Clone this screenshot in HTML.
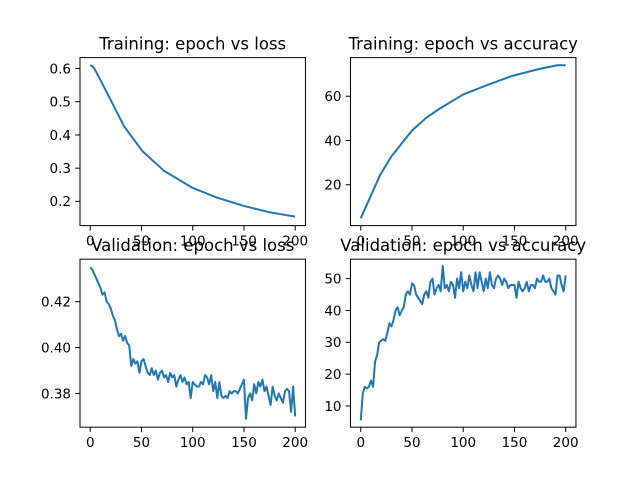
<!DOCTYPE html>
<html><head><meta charset="utf-8"><style>body{margin:0;background:#fff}svg{display:block;font-family:"DejaVu Sans","Liberation Sans",sans-serif}</style></head>
<body>
<svg id="fig" width="640" height="480" xmlns="http://www.w3.org/2000/svg"></svg>
<script>
const lossEpochs=[0,2,4,10,20,33,51,72,99,123,149,175,200];
const trainLoss=[0.61,0.607,0.60,0.565,0.505,0.426,0.351,0.292,0.242,0.212,0.187,0.167,0.154];
const accEpochs=[0,19,30,50,64,77,100,126,148,174,192,200];
const trainAcc=[4.9,24.5,32.9,44.5,50.3,54.4,60.8,65.5,69.2,72.3,74,74];
const valEpochStep=2;
const valLoss=[0.435,0.434,0.432,0.430,0.428,0.426,0.423,0.424,0.420,0.419,0.417,0.414,0.412,0.408,0.405,0.406,0.403,0.405,0.402,0.401,0.392,0.395,0.393,0.394,0.389,0.394,0.395,0.392,0.389,0.388,0.391,0.388,0.390,0.386,0.389,0.390,0.387,0.388,0.385,0.389,0.387,0.388,0.383,0.386,0.388,0.385,0.387,0.384,0.385,0.378,0.385,0.384,0.383,0.383,0.385,0.384,0.388,0.387,0.384,0.388,0.381,0.385,0.378,0.385,0.379,0.378,0.379,0.378,0.381,0.380,0.381,0.381,0.380,0.382,0.384,0.386,0.369,0.378,0.380,0.377,0.384,0.380,0.385,0.383,0.386,0.381,0.383,0.379,0.375,0.383,0.379,0.377,0.380,0.378,0.376,0.381,0.382,0.381,0.372,0.383,0.370];
const valAcc=[5.5,14,16,15.5,16,18,16,24,26,30,30.5,31,30.5,33,36,35,37,40,41,38.5,40,41,45,46,45,48.5,48,45,44,43,42,45,46,44,49,50,45,47,48,46,54,47,48,46,49,48,44,50,47,52,46,49,47,51,48,46,52,47,52,49,46,50,47,52,48,47,50,51,50,48,50,49,47,48,48,48,44,49,47,46,47,49,46,48,48,47,50,49,49,51,49,49,50,47,46,45,51,51,48,46,51];
const xTicks=[0,50,100,150,200];
const panels=[
 {name:'training-loss',title:'Training: epoch vs loss',x0:80,y0:57.6,ylim:[0.127,0.633],yTicks:[0.2,0.3,0.4,0.5,0.6],fmt:v=>v.toFixed(1),xs:lossEpochs,ys:trainLoss},
 {name:'training-accuracy',title:'Training: epoch vs accuracy',x0:350.5,y0:57.6,ylim:[1.55,77.45],yTicks:[20,40,60],fmt:v=>String(v),xs:accEpochs,ys:trainAcc},
 {name:'validation-loss',title:'Validation: epoch vs loss',x0:80,y0:259.2,ylim:[0.3653,0.4385],yTicks:[0.38,0.40,0.42],fmt:v=>v.toFixed(2),xs:valLoss.map((_,i)=>i*valEpochStep),ys:valLoss},
 {name:'validation-accuracy',title:'Validation: epoch vs accuracy',x0:350.5,y0:259.2,ylim:[3.33,56.1],yTicks:[10,20,30,40,50],fmt:v=>String(v),xs:valAcc.map((_,i)=>i*valEpochStep),ys:valAcc}
];
const W=225.45,H=168,NS='http://www.w3.org/2000/svg',svg=document.getElementById('fig');
function mk(t,a,p){const e=document.createElementNS(NS,t);for(const k in a)e.setAttribute(k,a[k]);(p||svg).appendChild(e);return e;}
panels.forEach(P=>{
 const g=mk('g',{});
 
 
 const sx=v=>P.x0+(v+10)/220*W, sy=v=>P.y0+H-(v-P.ylim[0])/(P.ylim[1]-P.ylim[0])*H;
 const d=P.xs.map((x,i)=>(i?'L':'M')+sx(x).toFixed(2)+' '+sy(P.ys[i]).toFixed(2)).join('');
 const line=mk('path',{d:d,fill:'none',stroke:'#1f77b4','stroke-width':2,'stroke-linejoin':'round'},g);
 
 
 const fr=mk('rect',{x:P.x0,y:P.y0,width:W,height:H,fill:'none',stroke:'#000','stroke-width':1},g);
 
 
 xTicks.forEach(t=>{const x=sx(t);mk('line',{x1:x,x2:x,y1:P.y0+H,y2:P.y0+H+4.9,stroke:'#000','stroke-width':1},g);
  const tx=mk('text',{x:x,y:P.y0+H+20,'text-anchor':'middle','font-size':13.5},g);tx.textContent=t;
  
  });
 P.yTicks.forEach(t=>{const y=sy(t);mk('line',{x1:P.x0-4.9,x2:P.x0,y1:y,y2:y,stroke:'#000','stroke-width':1},g);
  const tx=mk('text',{x:P.x0-9,y:y+4.8,'text-anchor':'end','font-size':13.5},g);tx.textContent=P.fmt(t);
  
  });
 const ti=mk('text',{x:P.x0+W/2,y:P.y0-8,'text-anchor':'middle','font-size':16.5},g);ti.textContent=P.title;
 
 
});
</script>
</body></html>
